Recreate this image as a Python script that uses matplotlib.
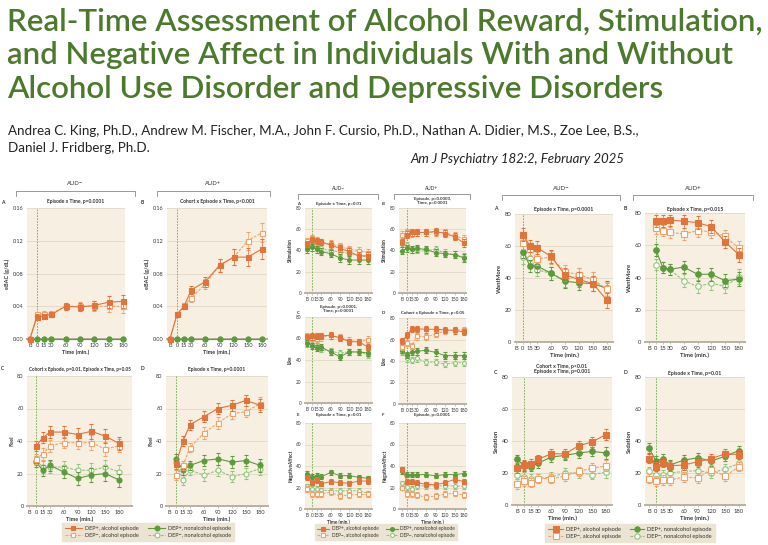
import matplotlib
matplotlib.use("Agg")
import matplotlib.pyplot as plt
from matplotlib.lines import Line2D

plt.rcParams['font.family'] = ['Lato', 'DejaVu Sans']

W, H = 768, 545

# time points (B = baseline, shown left of 0)
time_b = [-15, 0, 15, 30, 60, 90, 120, 150, 180]
time_nb = [0, 15, 30, 60, 90, 120, 150, 180]
tick_vals = [-15, 0, 15, 30, 60, 90, 120, 150, 180]
tick_labels = ["B", "0", "15", "30", "60", "90", "120", "150", "180"]

series_labels = ["DEP+, alcohol episode", "DEP\u2212, alcohol episode",
                 "DEP+, nonalcohol episode", "DEP\u2212, nonalcohol episode"]

# eBAC (g/dL)
ebac_audm_dp_alc = [0, 0.027, 0.028, 0.030, 0.040, 0.039, 0.041, 0.045, 0.046]
ebac_audm_dn_alc = [0, 0.030, 0.031, 0.031, 0.040, 0.040, 0.040, 0.040, 0.040]
ebac_audm_err = [0, 0.003, 0.003, 0.003, 0.004, 0.005, 0.006, 0.007, 0.008]
ebac_audp_dp_alc = [0, 0.030, 0.040, 0.060, 0.070, 0.090, 0.100, 0.100, 0.110]
ebac_audp_dn_alc = [0, 0.030, 0.041, 0.050, 0.067, 0.090, 0.100, 0.120, 0.130]
ebac_audp_err = [0, 0.002, 0.003, 0.005, 0.006, 0.008, 0.010, 0.011, 0.012]
ebac_non = [0, 0, 0, 0, 0, 0, 0, 0, 0]

# Feel
feel_audm_dp_alc = [37, 42, 45.5, 45.5, 44, 46, 43, 38.5]
feel_audm_dn_alc = [29, 32, 37, 39, 39, 39, 35, 37]
feel_audm_dp_non = [27, 22, 25, 21, 17, 19, 20, 16]
feel_audm_dn_non = [28, 24, 24, 24, 22, 22, 24, 21]
feel_audm_err = [3, 3.5, 3.5, 3.5, 4, 4.5, 4.5, 4]
feel_audp_dp_alc = [26, 40, 50, 55, 60, 62, 65, 62]
feel_audp_dn_alc = [19, 25, 36, 45, 51, 57, 58, 63]
feel_audp_dp_non = [29, 22, 25, 28, 29, 27, 28, 25]
feel_audp_dn_non = [27, 16, 22, 19, 22, 18, 20, 23]
feel_audp_err = [3, 3, 3, 3.5, 3.5, 3.5, 3.5, 4]

# Stimulation
stim_audm_dp_alc = [46, 50, 49, 48, 45, 42, 39, 35, 35]
stim_audm_dn_alc = [49, 52, 50, 48, 46, 44, 41, 40, 38]
stim_audm_dp_non = [41, 43, 41, 39, 37, 33, 31, 31, 31]
stim_audm_dn_non = [43, 45, 43, 42, 40, 39, 37, 35, 34]
stim_audm_err = [3, 3, 3, 3, 3.5, 3.5, 3.5, 3.5, 3.5]
stim_audp_dp_alc = [48, 55, 57, 57, 57, 58, 56, 53, 47]
stim_audp_dn_alc = [55, 57, 56, 57, 57, 57, 57, 54, 51]
stim_audp_dp_non = [40, 42, 41, 42, 41, 38, 37, 36, 33]
stim_audp_dn_non = [46, 45, 41, 41, 40, 41, 38, 36, 34]
stim_audp_err = [3, 3, 3, 3, 3, 3, 3, 3.5, 3.5]

# Like
like_audm_dp_alc = [61, 62, 62.5, 62.5, 63, 60.5, 57, 57, 52]
like_audm_dn_alc = [62.5, 60.5, 59.5, 61, 63, 61, 58, 57, 59]
like_audm_dp_non = [56, 53, 51, 52, 47.5, 43, 47.5, 47.5, 46.5]
like_audm_dn_non = [55.5, 55, 53, 50, 48, 46.5, 47.5, 47.5, 45]
like_audm_err = [3, 3, 3, 3, 3, 3, 3, 3, 3]
like_audp_dp_alc = [58.5, 64, 70, 70, 69.5, 69.5, 69, 68.5, 67]
like_audp_dn_alc = [53, 57, 54, 63, 62.5, 65, 68, 69, 69]
like_audp_dp_non = [50, 45.5, 48.5, 49, 50, 48, 45, 45, 45]
like_audp_dn_non = [48.5, 42.5, 41, 42.5, 39, 39, 37, 38.5, 38.5]
like_audp_err = [3, 3, 3, 3, 3, 3, 3, 3, 3]

# Negative affect
negaff_audm_dp_alc = [29.5, 24.5, 27, 23.5, 25.5, 24.5, 24, 26, 26]
negaff_audm_dn_alc = [18.5, 14, 14, 14, 15.5, 12, 13, 13.5, 13.5]
negaff_audm_dp_non = [33, 30, 31, 30, 34, 31, 31, 29.5, 28.5]
negaff_audm_dn_non = [21, 18.5, 18.5, 17.5, 17, 17, 17, 17, 14.5]
negaff_audm_err = [2.5, 2.5, 2.5, 2.5, 2.5, 2.5, 2.5, 2.5, 2.5]
negaff_audp_dp_alc = [37, 25.5, 25.5, 24.5, 23, 22.5, 24.5, 27.5, 25.5]
negaff_audp_dn_alc = [20, 14, 14, 13, 11, 12, 14, 14.5, 13]
negaff_audp_dp_non = [35, 32, 32, 32, 32, 31, 32, 32, 33]
negaff_audp_dn_non = [24, 20.5, 19, 21.5, 21.5, 21.5, 21.5, 21.5, 21]
negaff_audp_err = [2.5, 2.5, 2.5, 2.5, 2.5, 2.5, 2.5, 2.5, 2.5]

# Want more
want_audm_dp_alc = [67, 60, 59, 53.5, 42, 39, 36.5, 26]
want_audm_dn_alc = [62, 58, 52, 53, 44, 42, 39, 33]
want_audm_dp_non = [56.5, 47.5, 47.5, 43, 38, 37, 36.5, 33.5]
want_audm_dn_non = [53, 52.5, 45, 43, 38.5, 42, 39, 32.5]
want_audm_err = [4, 4, 4, 4, 4, 4.5, 4.5, 4.5]
want_audp_dp_alc = [75, 75, 75.5, 75, 74, 71.5, 62, 54]
want_audp_dn_alc = [70.5, 69, 68, 67, 69, 68.5, 65.5, 58]
want_audp_dp_non = [57, 46, 45, 46.5, 42, 42, 38, 39]
want_audp_dn_non = [48, 46, 45, 38, 34.5, 36.5, 34.5, 40.5]
want_audp_err = [3.5, 3.5, 3.5, 4, 4, 4, 4, 4.5]

# Sedation
sed_audm_dp_alc = [23, 25, 25.5, 28.5, 32, 32, 37, 39.5, 44]
sed_audm_dn_alc = [13, 15, 14, 16.5, 16.5, 18, 21, 23, 24.5]
sed_audm_dp_non = [28.5, 24.5, 24, 26, 30, 31, 32.5, 33.5, 32.5]
sed_audm_dn_non = [19, 17.5, 16.5, 16.5, 17.5, 20, 20, 19, 20.5]
sed_audm_err = [3, 3, 3, 3, 3, 3, 3, 3, 3.5]
sed_audp_dp_alc = [29, 24, 26.5, 24.5, 25, 27, 29, 32, 31.5]
sed_audp_dn_alc = [16.5, 15, 15.5, 15.5, 17.5, 17, 22, 18, 24]
sed_audp_dp_non = [35.5, 27.5, 29, 25, 28, 29.5, 27.5, 30.5, 34]
sed_audp_dn_non = [21, 19, 19, 20, 21, 21.5, 20, 22.5, 26]
sed_audp_err = [3, 3, 3, 3, 3, 3, 3, 3, 3]

score_ticks = [0, 20, 40, 60, 80]
ebac_ticks = [0, 0.04, 0.08, 0.12, 0.16]

# styles
ORANGE = "#e0743a"
ORANGE_L = "#f0a46c"
GREEN = "#5c9a3c"
GREEN_L = "#92c47c"
CREAM = "#f7efe1"
GRID = "#e4dccb"
TEXT = "#333333"
TITLE_GREEN = "#4b7a2c"

styles = [
    dict(color=ORANGE, marker="s", mfc=ORANGE, mec=ORANGE, ls="-"),
    dict(color=ORANGE_L, marker="s", mfc="white", mec=ORANGE_L, ls=(0, (2.5, 1.2))),
    dict(color=GREEN, marker="o", mfc=GREEN, mec=GREEN, ls="-"),
    dict(color=GREEN_L, marker="o", mfc="white", mec=GREEN_L, ls=(0, (2.5, 1.2))),
]

fig = plt.figure(figsize=(W / 100, H / 100), dpi=100)
fig.patch.set_facecolor("white")


def px(x, y):
    return x / W, 1 - y / H


def panel(box, p0, p180, t, series, errs, ticks, ylabel, title, title_y, letter, letter_xy,
          fs=4.0, tfs=3.6, ms=3.6, fmt="{:.0f}", lw=0.8, xlabel=True):
    l, t_, r, b = box
    ax = fig.add_axes([l / W, 1 - b / H, (r - l) / W, (b - t_) / H])
    s = (p180 - p0) / 180.0
    ax.set_xlim((l - p0) / s, (r - p0) / s)
    ax.set_ylim(ticks[0], ticks[-1])
    ax.set_facecolor(CREAM)
    for k in ["top", "left", "right"]:
        ax.spines[k].set_visible(False)
    ax.spines["bottom"].set_color("#b9b1a3")
    ax.spines["bottom"].set_linewidth(1.4)
    ax.set_yticks(ticks)
    ax.set_yticklabels([fmt.format(v) for v in ticks])
    ax.yaxis.grid(True, color=GRID, lw=0.7)
    ax.set_axisbelow(True)
    ax.set_xticks(tick_vals)
    ax.set_xticklabels(tick_labels)
    ax.tick_params(axis="x", length=1.5, width=0.4, color="#999999", labelsize=fs, pad=1.2, labelcolor=TEXT)
    ax.tick_params(axis="y", length=0, labelsize=fs, pad=2.5, labelcolor=TEXT)
    ax.axvline(0, color="#6aaa48", lw=0.6, ls=(0, (2, 1.5)), zorder=1)
    order = [3, 2, 1, 0]
    for z, i in enumerate(order):
        st = styles[i]
        ax.errorbar(t, series[i], yerr=errs[i], color=st["color"], ls=st["ls"], lw=lw,
                    marker=st["marker"], mfc=st["mfc"], mec=st["mec"], ms=ms, mew=0.8,
                    elinewidth=0.5, capsize=1.6, capthick=0.5, ecolor=st["color"],
                    clip_on=False, zorder=3 + z)
    ax.set_ylabel(ylabel, fontsize=fs, fontweight="bold", labelpad=2, color=TEXT)
    if xlabel:
        ax.set_xlabel("Time (min.)", fontsize=fs, fontweight="bold", labelpad=1.5, color=TEXT)
    cx = (l + r) / 2
    fig.text(*px(cx, title_y), title, ha="center", va="center", fontsize=tfs, fontweight="bold",
             color=TEXT, linespacing=1.15)
    fig.text(*px(*letter_xy), letter, ha="left", va="center", fontsize=tfs, fontweight="bold", color=TEXT)
    return ax


def bracket(x0, x1, y, label, ty, fs=4.2):
    fx0, fy = px(x0, y)
    fx1, fy2 = px(x1, y + 5)
    fig.add_artist(Line2D([fx0, fx0, fx1, fx1], [fy2, fy, fy, fy2], color="#888888", lw=0.6))
    fig.text(*px((x0 + x1) / 2, ty), label, ha="center", va="center", fontsize=fs, color=TEXT)


def legend(cx, cy, fs=4.0, ms=3.5, colsp=2.0, hl=3.0):
    handles = []
    for st in styles:
        handles.append(Line2D([], [], color=st["color"], ls=st["ls"], lw=0.8, marker=st["marker"],
                              mfc=st["mfc"], mec=st["mec"], ms=ms, mew=0.8))
    leg = fig.legend(handles, series_labels, ncol=2, loc="center", bbox_to_anchor=px(cx, cy),
                     fontsize=fs, frameon=True, fancybox=False, facecolor="#ece4d2", edgecolor="#ece4d2",
                     framealpha=1, handlelength=hl, handletextpad=0.5, columnspacing=colsp,
                     borderpad=0.5, labelspacing=0.35)
    for txt in leg.get_texts():
        txt.set_color(TEXT)


# ---------------- title block ----------------
title_lines = ["Real-Time Assessment of Alcohol Reward, Stimulation,",
               "and Negative Affect in Individuals With and Without",
               "Alcohol Use Disorder and Depressive Disorders"]
for yy, line in zip([22, 55, 89], title_lines):
    fig.text(*px(7, yy), line, ha="left", va="center", fontsize=22.5, fontweight=600, color=TITLE_GREEN)
fig.text(*px(8, 131), "Andrea C. King, Ph.D., Andrew M. Fischer, M.A., John F. Cursio, Ph.D., "
         "Nathan A. Didier, M.S., Zoe Lee, B.S.,", ha="left", va="center", fontsize=9.6, color="#222222")
fig.text(*px(8, 148), "Daniel J. Fridberg, Ph.D.", ha="left", va="center", fontsize=9.6, color="#222222")
fig.text(*px(410, 159), "Am J Psychiatry 182:2, February 2025", ha="left", va="center",
         fontsize=9.5, style="italic", color="#222222")

# ---------------- left group: eBAC and Feel ----------------
bracket(16, 135, 191, "AUD\u2212", 183)
bracket(157, 270, 191, "AUD+", 183)
panel((27, 208, 125, 339), 37, 123, time_b,
      [ebac_audm_dp_alc, ebac_audm_dn_alc, ebac_non, ebac_non],
      [ebac_audm_err, ebac_audm_err, ebac_non, ebac_non],
      ebac_ticks, "eBAC (g/dL)", "Episode x Time, p=0.0001", 202, "A", (1, 202), fmt="{:.2f}")
panel((167, 208, 267, 339), 177, 262, time_b,
      [ebac_audp_dp_alc, ebac_audp_dn_alc, ebac_non, ebac_non],
      [ebac_audp_err, ebac_audp_err, ebac_non, ebac_non],
      ebac_ticks, "eBAC (g/dL)", "Cohort x Episode x Time, p<0.001", 202, "B", (141, 202), fmt="{:.2f}")
panel((27, 376, 132, 506), 36, 119, time_nb,
      [feel_audm_dp_alc, feel_audm_dn_alc, feel_audm_dp_non, feel_audm_dn_non],
      [feel_audm_err] * 4,
      score_ticks, "Feel", "Cohort x Episode, p=0.01, Episode x Time, p=0.05", 369, "C", (1, 369), tfs=3.3)
panel((166, 376, 268, 506), 176, 260, time_nb,
      [feel_audp_dp_alc, feel_audp_dn_alc, feel_audp_dp_non, feel_audp_dn_non],
      [feel_audp_err] * 4,
      score_ticks, "Feel", "Episode x Time, p=0.0001", 369, "D", (141, 369))
legend(148, 532, colsp=1.8)

# ---------------- middle group: Stimulation, Like, NegativeAffect ----------------
fsm = 3.4
bracket(298, 378, 194, "AUD\u2212", 188, fs=3.4)
bracket(394, 470, 194, "AUD+", 188, fs=3.4)
panel((305, 208, 372, 293), 312, 368, time_b,
      [stim_audm_dp_alc, stim_audm_dn_alc, stim_audm_dp_non, stim_audm_dn_non],
      [stim_audm_err] * 4, score_ticks, "Stimulation", "Episode x Time, p=0.01", 204, "A", (297, 204),
      fs=fsm, tfs=3.2, ms=2.8, lw=0.7, xlabel=False)
panel((399, 208, 466, 293), 407, 464, time_b,
      [stim_audp_dp_alc, stim_audp_dn_alc, stim_audp_dp_non, stim_audp_dn_non],
      [stim_audp_err] * 4, score_ticks, "Stimulation", "Episode, p=0.0003,\nTime, p=0.0001", 201, "B", (382, 204),
      fs=fsm, tfs=3.2, ms=2.8, lw=0.7, xlabel=False)
panel((305, 317, 372, 403), 312, 368, time_b,
      [like_audm_dp_alc, like_audm_dn_alc, like_audm_dp_non, like_audm_dn_non],
      [like_audm_err] * 4, score_ticks, "Like", "Episode, p=0.0001,\nTime, p=0.0001", 309, "C", (297, 313),
      fs=fsm, tfs=3.2, ms=2.8, lw=0.7, xlabel=False)
panel((399, 318, 466, 404), 407, 464, time_b,
      [like_audp_dp_alc, like_audp_dn_alc, like_audp_dp_non, like_audp_dn_non],
      [like_audp_err] * 4, score_ticks, "Like", "Cohort x Episode x Time, p=0.05", 313, "D", (382, 313),
      fs=fsm, tfs=3.2, ms=2.8, lw=0.7, xlabel=False)
panel((305, 423, 372, 509), 312, 368, time_b,
      [negaff_audm_dp_alc, negaff_audm_dn_alc, negaff_audm_dp_non, negaff_audm_dn_non],
      [negaff_audm_err] * 4, score_ticks, "NegativeAffect", "Episode x Time, p=0.01", 415, "E", (297, 415),
      fs=fsm, tfs=3.2, ms=2.8, lw=0.7)
panel((399, 423, 466, 509), 407, 464, time_b,
      [negaff_audp_dp_alc, negaff_audp_dn_alc, negaff_audp_dp_non, negaff_audp_dn_non],
      [negaff_audp_err] * 4, score_ticks, "NegativeAffect", "Episode, p=0.0001", 415, "F", (382, 415),
      fs=fsm, tfs=3.2, ms=2.8, lw=0.7)
legend(386, 532, fs=3.4, ms=2.8, colsp=1.5, hl=2.6)

# ---------------- right group: WantMore and Sedation ----------------
fsr = 4.2
bracket(502, 620, 195, "AUD\u2212", 189, fs=4.4)
bracket(633, 753, 195, "AUD+", 189, fs=4.4)
panel((515, 214, 613, 342), 523, 607, time_nb,
      [want_audm_dp_alc, want_audm_dn_alc, want_audm_dp_non, want_audm_dn_non],
      [want_audm_err] * 4, score_ticks, "WantMore", "Episode x Time, p=0.0001", 209, "A", (494, 209),
      fs=fsr, tfs=3.7, ms=4)
panel((645, 213, 745, 342), 656, 739, time_nb,
      [want_audp_dp_alc, want_audp_dn_alc, want_audp_dp_non, want_audp_dn_non],
      [want_audp_err] * 4, score_ticks, "WantMore", "Episode x Time, p=0.015", 209, "B", (624, 209),
      fs=fsr, tfs=3.7, ms=4)
panel((512, 377, 612, 505), 524, 606, time_b,
      [sed_audm_dp_alc, sed_audm_dn_alc, sed_audm_dp_non, sed_audm_dn_non],
      [sed_audm_err] * 4, score_ticks, "Sedation", "Cohort x Time, p<0.01\nEpisode x Time, p=0.001", 369, "C",
      (494, 373), fs=fsr, tfs=3.7, ms=4)
panel((645, 377, 745, 505), 656, 739, time_b,
      [sed_audp_dp_alc, sed_audp_dn_alc, sed_audp_dp_non, sed_audp_dn_non],
      [sed_audp_err] * 4, score_ticks, "Sedation", "Episode x Time, p=0.01", 373, "D", (624, 373),
      fs=fsr, tfs=3.7, ms=4)
legend(630, 533, fs=4.1, ms=3.8, colsp=1.5, hl=2.6)

fig.savefig("out.png", dpi=100)
